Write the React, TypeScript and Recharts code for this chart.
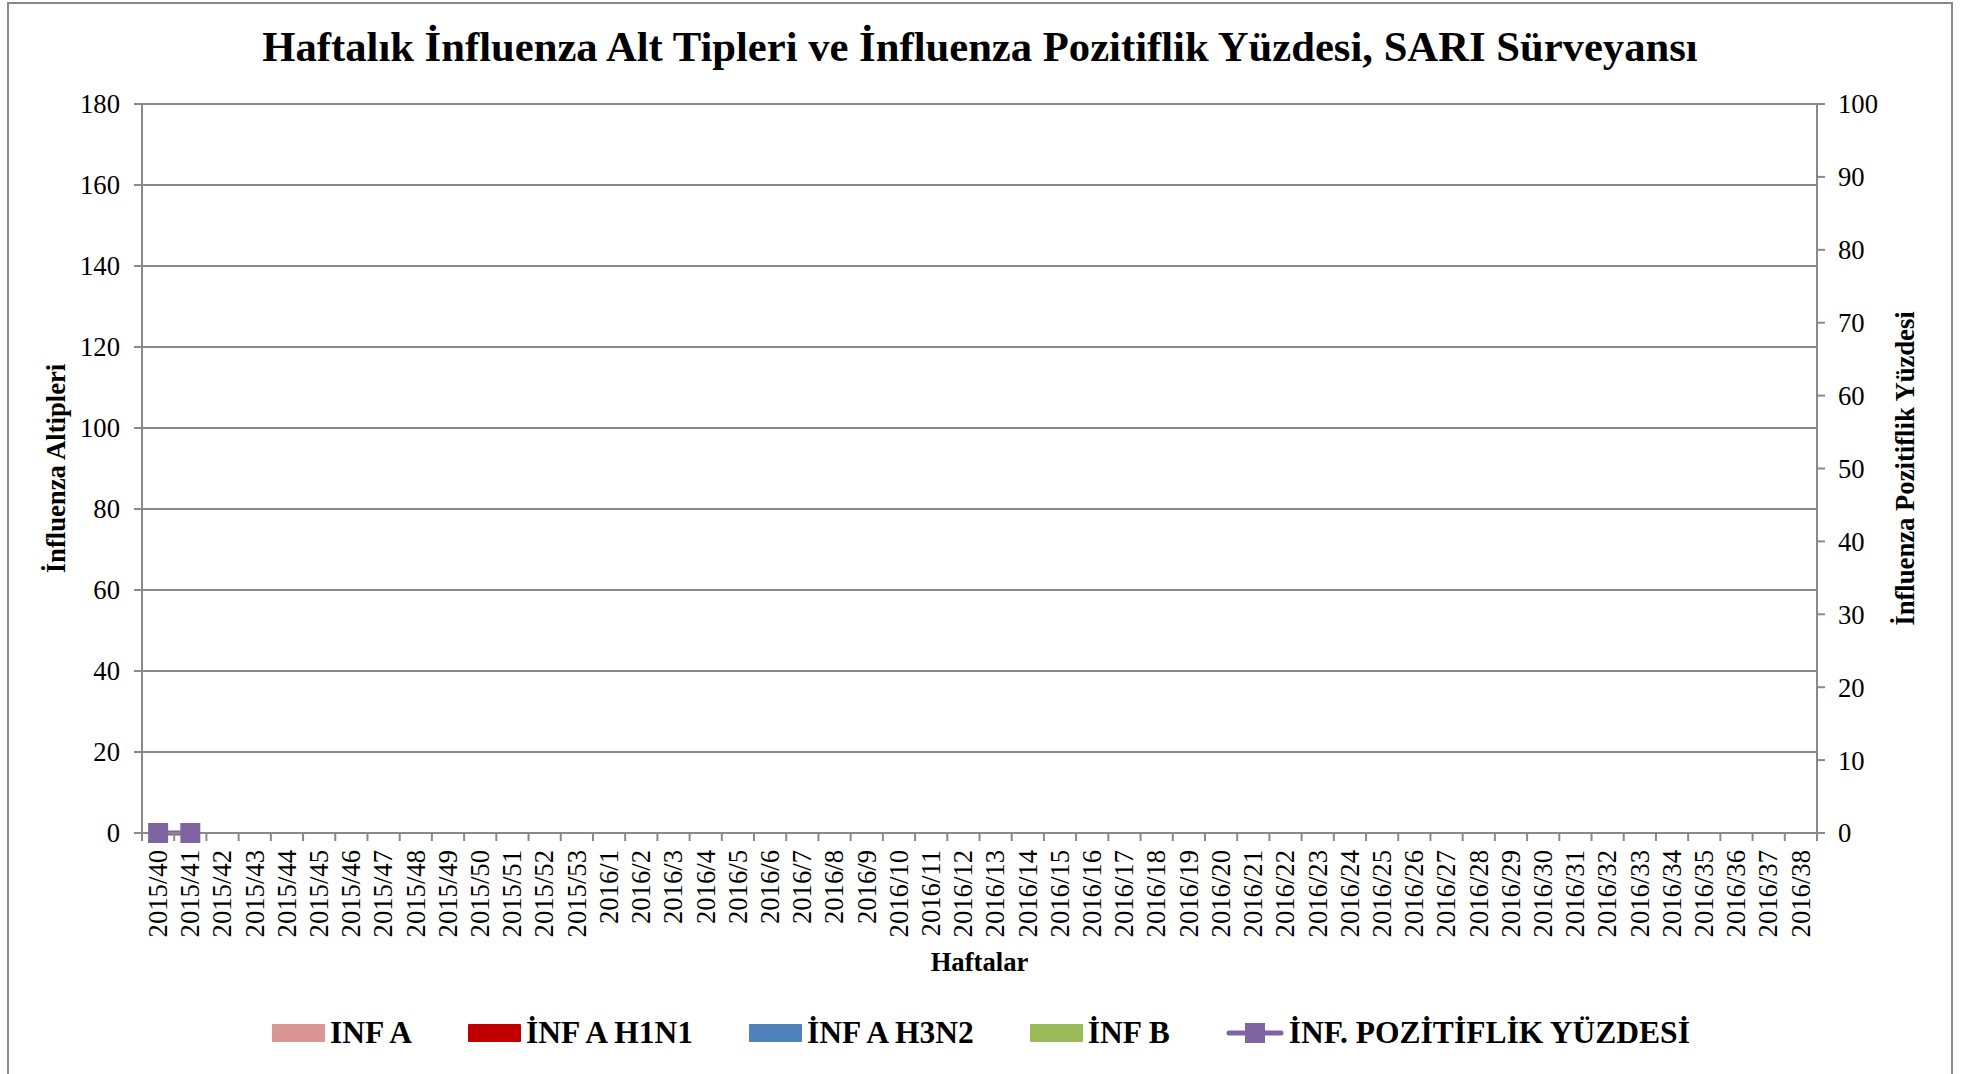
import React from 'react';
import { ComposedChart, Bar, Line, XAxis, YAxis, CartesianGrid, Label } from 'recharts';

const weeks = [
  '2015/40', '2015/41', '2015/42', '2015/43', '2015/44', '2015/45', '2015/46',
  '2015/47', '2015/48', '2015/49', '2015/50', '2015/51', '2015/52', '2015/53',
  '2016/1', '2016/2', '2016/3', '2016/4', '2016/5', '2016/6', '2016/7', '2016/8',
  '2016/9', '2016/10', '2016/11', '2016/12', '2016/13', '2016/14', '2016/15',
  '2016/16', '2016/17', '2016/18', '2016/19', '2016/20', '2016/21', '2016/22',
  '2016/23', '2016/24', '2016/25', '2016/26', '2016/27', '2016/28', '2016/29',
  '2016/30', '2016/31', '2016/32', '2016/33', '2016/34', '2016/35', '2016/36',
  '2016/37', '2016/38',
];

// only the first two weeks have been reported so far
const infA = [
  0, 0, null, null, null, null, null, null, null, null, null, null, null,
  null, null, null, null, null, null, null, null, null, null, null, null, null,
  null, null, null, null, null, null, null, null, null, null, null, null, null,
  null, null, null, null, null, null, null, null, null, null, null, null, null,
];
const infAH1N1 = [
  0, 0, null, null, null, null, null, null, null, null, null, null, null,
  null, null, null, null, null, null, null, null, null, null, null, null, null,
  null, null, null, null, null, null, null, null, null, null, null, null, null,
  null, null, null, null, null, null, null, null, null, null, null, null, null,
];
const infAH3N2 = [
  0, 0, null, null, null, null, null, null, null, null, null, null, null,
  null, null, null, null, null, null, null, null, null, null, null, null, null,
  null, null, null, null, null, null, null, null, null, null, null, null, null,
  null, null, null, null, null, null, null, null, null, null, null, null, null,
];
const infB = [
  0, 0, null, null, null, null, null, null, null, null, null, null, null,
  null, null, null, null, null, null, null, null, null, null, null, null, null,
  null, null, null, null, null, null, null, null, null, null, null, null, null,
  null, null, null, null, null, null, null, null, null, null, null, null, null,
];
const positivity = [
  0, 0, null, null, null, null, null, null, null, null, null, null, null,
  null, null, null, null, null, null, null, null, null, null, null, null, null,
  null, null, null, null, null, null, null, null, null, null, null, null, null,
  null, null, null, null, null, null, null, null, null, null, null, null, null,
];

const leftTicks = [0, 20, 40, 60, 80, 100, 120, 140, 160, 180];
const rightTicks = [0, 10, 20, 30, 40, 50, 60, 70, 80, 90, 100];

const seriesNames = ['INF A', 'İNF A H1N1', 'İNF A H3N2', 'İNF B', 'İNF. POZİTİFLİK YÜZDESİ'];

const FONT = '"Liberation Serif", "Times New Roman", serif';
const GREY = '#898989';
const COLORS = ['#D99694', '#C00000', '#4F81BD', '#9BBB59', '#8064A2'];

const W = 1966;
const H = 1074;
const PLOT_TOP = 104;
const PLOT_LEFT = 142;
const PLOT_RIGHT = 1817;
const PLOT_BOTTOM = 833;
const BAND = (PLOT_RIGHT - PLOT_LEFT) / weeks.length;

const data = weeks.map((week, i) => ({
  week,
  infA: infA[i],
  h1n1: infAH1N1[i],
  h3n2: infAH3N2[i],
  infB: infB[i],
  pct: positivity[i],
}));

const WeekTick = (props: any) => {
  const { x, payload, index } = props;
  const half = BAND / 2;
  return (
    <g>
      <line x1={x - half} x2={x - half} y1={PLOT_BOTTOM} y2={PLOT_BOTTOM + 8} stroke={GREY} strokeWidth={2} />
      {index === weeks.length - 1 && (
        <line x1={x + half} x2={x + half} y1={PLOT_BOTTOM} y2={PLOT_BOTTOM + 8} stroke={GREY} strokeWidth={2} />
      )}
      <text
        transform={`translate(${x},${PLOT_BOTTOM + 17}) rotate(-90)`}
        textAnchor="end"
        dy="0.33em"
        fontSize={26.67}
        fontFamily={FONT}
        fill="#000"
      >
        {payload.value}
      </text>
    </g>
  );
};

const SquareDot = (props: any) => {
  const { cx, cy, value } = props;
  if (value == null || cx == null || cy == null) return null;
  return <rect key={`dot-${cx}`} x={cx - 10} y={cy - 10} width={20} height={20} fill={COLORS[4]} />;
};

const axisTitle = { fontSize: 26.67, fontWeight: 700, fontFamily: FONT, fill: '#000' };

function ChartLegend() {
  return (
    <div
      style={{
        position: 'absolute',
        top: 1014,
        left: 0,
        width: W - 4,
        display: 'flex',
        justifyContent: 'center',
        alignItems: 'center',
        gap: 56,
        fontFamily: FONT,
        fontWeight: 700,
        fontSize: 31.5,
        lineHeight: '38px',
        color: '#000',
      }}
    >
      {seriesNames.map((name, i) => (
        <div key={name} style={{ display: 'flex', alignItems: 'center', gap: 5 }}>
          {i < 4 ? (
            <span
              style={{
                display: 'inline-block',
                width: 53,
                height: 18,
                background: COLORS[i],
                borderRadius: 1,
              }}
            />
          ) : (
            <svg width={58} height={24}>
              <line x1={3} x2={55} y1={12} y2={12} stroke={COLORS[4]} strokeWidth={5} strokeLinecap="round" />
              <rect x={19} y={2} width={20} height={20} fill={COLORS[4]} />
            </svg>
          )}
          <span>{name}</span>
        </div>
      ))}
    </div>
  );
}

export default function App() {
  return (
    <div style={{ position: 'absolute', left: 0, top: 0, width: W, height: H, background: '#fff', overflow: 'hidden' }}>
      <div
        style={{
          position: 'absolute',
          left: 7,
          top: 2,
          width: 1942,
          height: 1100,
          border: `2px solid ${GREY}`,
        }}
      />
      <div
        style={{
          position: 'absolute',
          top: 26,
          left: 0,
          width: 1960,
          textAlign: 'center',
          fontFamily: FONT,
          fontWeight: 700,
          fontSize: 42.67,
          lineHeight: 1,
          color: '#000',
        }}
      >
        Haftalık İnfluenza Alt Tipleri ve İnfluenza Pozitiflik Yüzdesi, SARI Sürveyansı
      </div>
      <div style={{ position: 'absolute', left: 0, top: 0 }}>
        <ComposedChart
          width={W}
          height={H}
          data={data}
          margin={{ top: PLOT_TOP, right: 0, left: 0, bottom: 0 }}
          barCategoryGap="20%"
        >
          <CartesianGrid yAxisId="left" vertical={false} stroke={GREY} strokeWidth={2} />
          <XAxis
            dataKey="week"
            interval={0}
            height={H - PLOT_BOTTOM}
            axisLine={{ stroke: GREY, strokeWidth: 2 }}
            tickLine={false}
            tick={<WeekTick />}
          >
            <Label
              content={() => (
                <text x={(PLOT_LEFT + PLOT_RIGHT) / 2} y={962} dy="0.33em" textAnchor="middle" {...axisTitle}>
                  Haftalar
                </text>
              )}
            />
          </XAxis>
          <YAxis
            yAxisId="left"
            width={PLOT_LEFT}
            domain={[0, 180]}
            ticks={leftTicks}
            interval={0}
            axisLine={{ stroke: GREY, strokeWidth: 2 }}
            tickLine={{ stroke: GREY, strokeWidth: 2 }}
            tickSize={8}
            tickMargin={14}
            tick={{ fontSize: 26.67, fontFamily: FONT, fill: '#000' }}
          >
            <Label
              content={() => (
                <text
                  transform={`translate(56,${(PLOT_TOP + PLOT_BOTTOM) / 2}) rotate(-90)`}
                  dy="0.33em"
                  textAnchor="middle"
                  {...axisTitle}
                >
                  İnfluenza Altipleri
                </text>
              )}
            />
          </YAxis>
          <YAxis
            yAxisId="right"
            orientation="right"
            width={W - PLOT_RIGHT}
            domain={[0, 100]}
            ticks={rightTicks}
            interval={0}
            axisLine={{ stroke: GREY, strokeWidth: 2 }}
            tickLine={{ stroke: GREY, strokeWidth: 2 }}
            tickSize={8}
            tickMargin={13}
            tick={{ fontSize: 26.67, fontFamily: FONT, fill: '#000' }}
          >
            <Label
              content={() => (
                <text
                  transform={`translate(1905,${(PLOT_TOP + PLOT_BOTTOM) / 2}) rotate(-90)`}
                  dy="0.33em"
                  textAnchor="middle"
                  {...axisTitle}
                >
                  İnfluenza Pozitiflik Yüzdesi
                </text>
              )}
            />
          </YAxis>
          <Bar yAxisId="left" dataKey="infA" name={seriesNames[0]} stackId="a" fill={COLORS[0]} isAnimationActive={false} />
          <Bar yAxisId="left" dataKey="h1n1" name={seriesNames[1]} stackId="a" fill={COLORS[1]} isAnimationActive={false} />
          <Bar yAxisId="left" dataKey="h3n2" name={seriesNames[2]} stackId="a" fill={COLORS[2]} isAnimationActive={false} />
          <Bar yAxisId="left" dataKey="infB" name={seriesNames[3]} stackId="a" fill={COLORS[3]} isAnimationActive={false} />
          <Line
            yAxisId="right"
            dataKey="pct"
            name={seriesNames[4]}
            stroke={COLORS[4]}
            strokeWidth={5}
            dot={<SquareDot />}
            activeDot={false}
            isAnimationActive={false}
          />
        </ComposedChart>
      </div>
      <ChartLegend />
    </div>
  );
}
